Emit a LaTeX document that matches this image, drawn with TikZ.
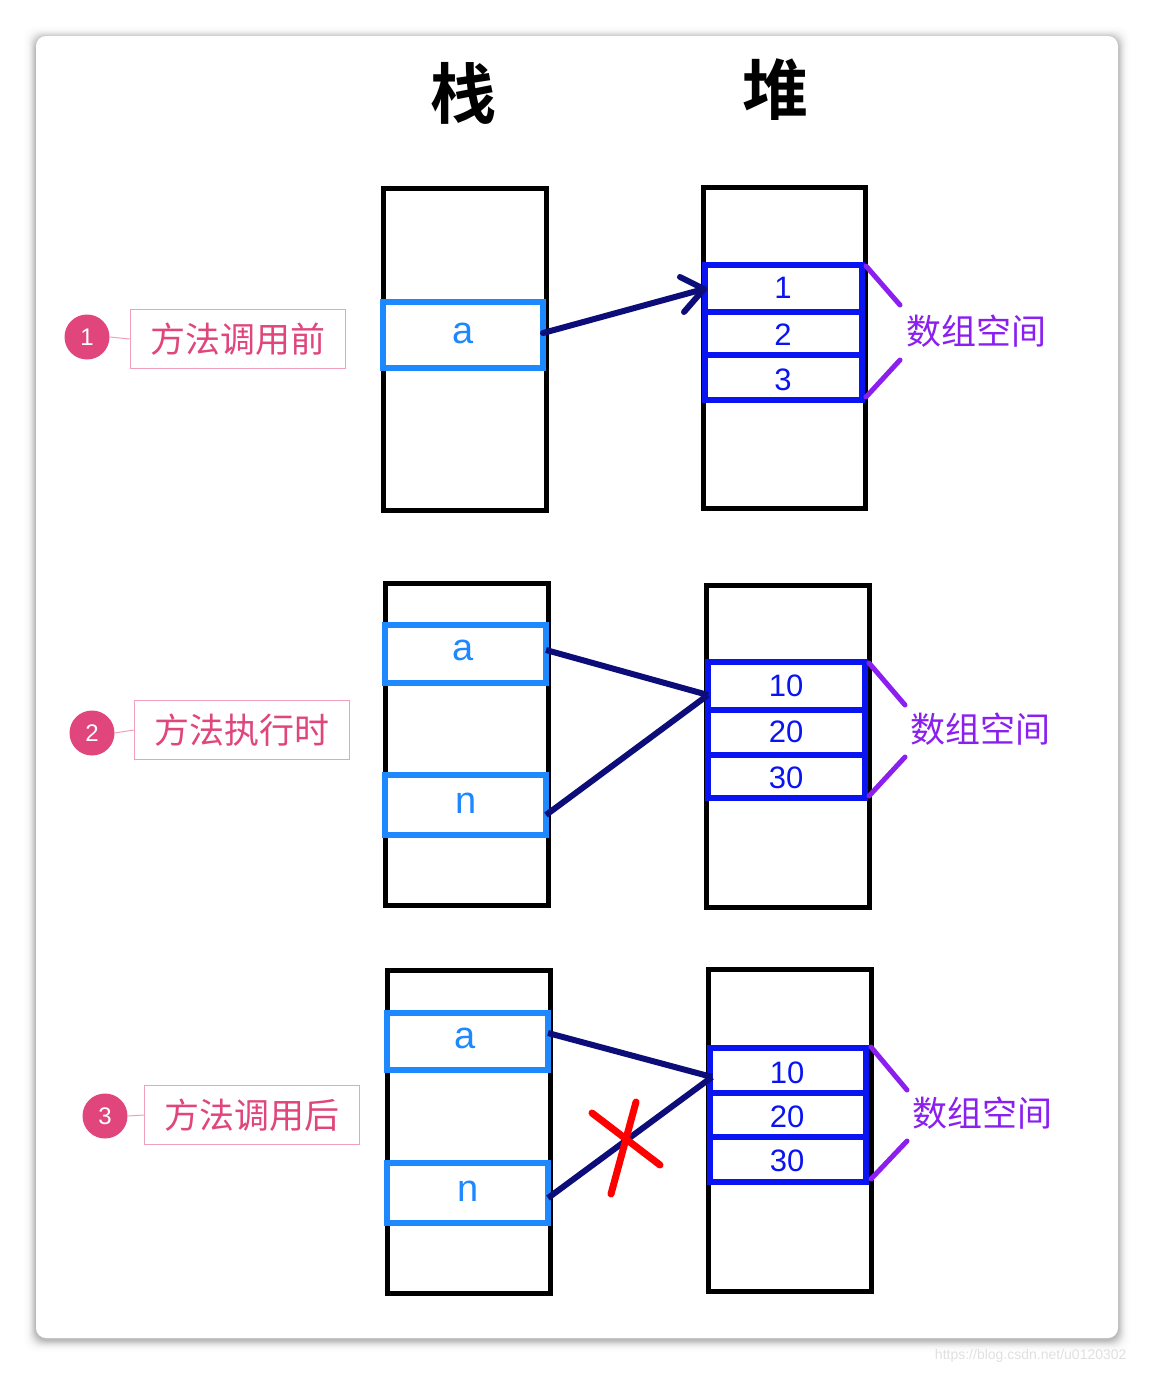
\documentclass[tikz,border=0pt]{standalone}
\usepackage{fontspec}
\setmainfont{Liberation Sans}
\newfontfamily\cjk{Noto Sans CJK SC}
\newfontfamily\cjkb{Noto Sans CJK SC Bold}
\definecolor{slotblue}{HTML}{1E88FF}
\definecolor{arrblue}{HTML}{0A14F0}
\definecolor{navy}{HTML}{0D0D7A}
\definecolor{vio}{HTML}{8A1FF0}
\definecolor{pinkc}{HTML}{E0457B}
\definecolor{pinkb}{HTML}{F0A0BC}
\begin{document}
\begin{tikzpicture}[x=1pt,y=-1pt,
  frame/.style={draw=black,line width=5pt},
  slot/.style={draw=slotblue,line width=5.5pt},
  arr/.style={draw=arrblue,line width=5.5pt},
  link/.style={draw=navy,line width=6pt},
  brk/.style={draw=vio,line width=5pt,line cap=round},
  ltxt/.style={font=\fontsize{38}{38}\selectfont,text=slotblue},
  ntxt/.style={font=\fontsize{31}{31}\selectfont,text=arrblue},
  vtxt/.style={font=\cjk\fontsize{35}{35}\selectfont,text=vio},
  num/.style={circle,fill=pinkc,minimum size=45pt,inner sep=0pt,text=white,font=\fontsize{24}{24}\selectfont},
  lab/.style={draw=pinkb,line width=1.5pt,minimum width=215pt,minimum height=59pt,text=pinkc,font=\cjk\fontsize{35}{35}\selectfont},
  ttl/.style={font=\cjkb\fontsize{66}{66}\selectfont}]
\useasboundingbox (0,0) rectangle (1154,1374);
\fill[white] (0,0) rectangle (1154,1374);
\foreach \i/\o in {1/0.05,2/0.045,3/0.04,4/0.035,5/0.03,6/0.025,7/0.02,8/0.015,10/0.01,12/0.008}
  \fill[black,opacity=\o,rounded corners=12pt] (36-\i,36-\i+2) rectangle (1118+\i,1338+\i+2);
\fill[white,rounded corners=10pt] (36,36) rectangle (1118,1338);

\node[ttl] (tz) at (463,93) {栈};
\node[ttl] (td) at (775,90) {堆};

% ---------- panel 1
\draw[frame] (383,188) rectangle (546,510);
\draw[slot] (383,302) rectangle (543,368);
\node[ltxt] (a1) at (463,333) {a};
\draw[frame] (703,187) rectangle (865,508);
\draw[arr] (705,265) rectangle (862,400) (705,312) -- (862,312) (705,355) -- (862,355);
\node[ntxt] (v11) at (783,288) {1};
\node[ntxt] (v12) at (783,335) {2};
\node[ntxt] (v13) at (783,380) {3};
\draw[brk] (866,266) -- (900,305) (900,360) -- (866,397);
\node[vtxt] (s1) at (976,331) {数组空间};
\coordinate (p1s) at (543,333);
\coordinate (p1e) at (704,289);
\draw[link,line cap=round] (p1s) -- (p1e);
\draw[link,line cap=round,line join=round] (680,277) -- (704,289) -- (684,312);
\node[num] (c1) at (87,337) {1};
\node[lab] (l1) at (238,339) {方法调用前};
\draw[pinkb,line width=1pt] (c1.east) -- (l1.west);

% ---------- panel 2
\draw[frame] (385,583) rectangle (548,905);
\draw[slot] (385,625) rectangle (546,683);
\draw[slot] (385,775) rectangle (546,835);
\node[ltxt] (a2) at (463,650) {a};
\node[ltxt] (n2) at (466,803) {n};
\draw[frame] (706,585) rectangle (869,907);
\draw[arr] (708,662) rectangle (865,798) (708,710) -- (865,710) (708,755) -- (865,755);
\node[ntxt] (v21) at (786,686) {10};
\node[ntxt] (v22) at (786,732) {20};
\node[ntxt] (v23) at (786,778) {30};
\draw[brk] (869,663) -- (905,705) (905,757) -- (869,796);
\node[vtxt] (s2) at (980,729) {数组空间};
\coordinate (p2a) at (546,650);
\coordinate (p2n) at (546,815);
\coordinate (p2h) at (708,695);
\draw[link] (p2a) -- (p2h) (p2n) -- (p2h);
\node[num] (c2) at (92,733) {2};
\node[lab] (l2) at (242,730) {方法执行时};
\draw[pinkb,line width=1pt] (c2.east) -- (l2.west);

% ---------- panel 3
\draw[frame] (387,970) rectangle (550,1293);
\draw[slot] (387,1013) rectangle (548,1070);
\draw[slot] (387,1163) rectangle (548,1223);
\node[ltxt] (a3) at (465,1038) {a};
\node[ltxt] (n3) at (468,1191) {n};
\draw[frame] (708,969) rectangle (871,1291);
\draw[arr] (710,1048) rectangle (866,1182) (710,1093) -- (866,1093) (710,1137) -- (866,1137);
\node[ntxt] (v31) at (787,1073) {10};
\node[ntxt] (v32) at (787,1117) {20};
\node[ntxt] (v33) at (787,1161) {30};
\draw[brk] (871,1047) -- (907,1090) (907,1141) -- (871,1179);
\node[vtxt] (s3) at (982,1113) {数组空间};
\coordinate (p3a) at (548,1033);
\coordinate (p3n) at (548,1198);
\coordinate (p3h) at (712,1077);
\draw[link] (p3a) -- (p3h) (p3n) -- (p3h);
\draw[red,line width=7pt,line cap=round] (592,1113) -- (660,1165) (636,1102) -- (611,1194);
\node[num] (c3) at (105,1116) {3};
\node[lab] (l3) at (252,1115) {方法调用后};
\draw[pinkb,line width=1pt] (c3.east) -- (l3.west);

\node[text=black!12,font=\fontsize{14}{14}\selectfont,anchor=east] (wm) at (1130,1356) {https://blog.csdn.net/u0120302};
\end{tikzpicture}
\end{document}
